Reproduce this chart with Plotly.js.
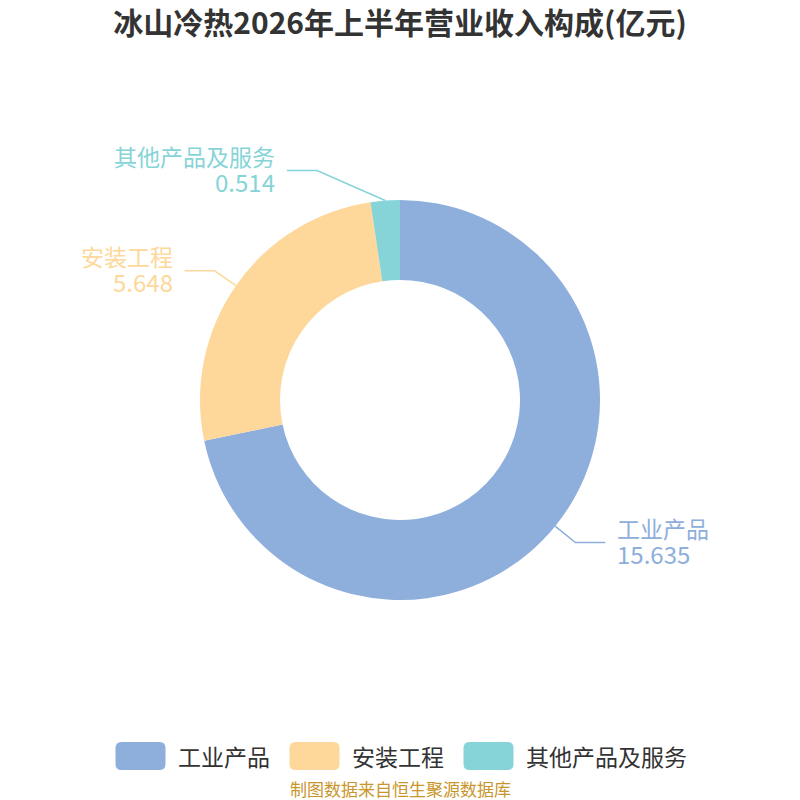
<!DOCTYPE html>
<html>
<head>
<meta charset="utf-8">
<script src="https://cdn.plot.ly/plotly-3.0.1.min.js"></script>
<style>
  html, body { margin: 0; padding: 0; background: #fff; }
  #chart { width: 800px; height: 800px; }
</style>
</head>
<body>
<div id="chart"></div>
<script>
// data
const labels = ['工业产品', '安装工程', '其他产品及服务']
const values = [15.635, 5.648, 0.514]
const colors = ['#8eaedb', '#fdd89a', '#86d4d8']

const W = 800, H = 800
const FONT = '"Noto Sans CJK SC", "Noto Sans", sans-serif'

// pie geometry in px (domain 0.25..0.75 -> radius 200, centre 400,400)
const cx = 400, cy = 400, R = 200
const len1 = 26, len2 = 30

const px = (x) => x / W
const py = (y) => 1 - y / H

var total = values.reduce((a, b) => a + b, 0)
var shapes = []
var annotations = []

// leader lines + outside labels, placed from the data angles
var cum = 0
for (var i = 0; i < values.length; i++) {
    var frac = values[i] / total
    var mid = (cum + frac / 2) * 2 * Math.PI   // clockwise from 12 o'clock
    cum += frac
    var dx = Math.sin(mid), dy = -Math.cos(mid)
    var side = dx < 0 ? -1 : 1
    var x0 = cx + R * dx, y0 = cy + R * dy
    var x1 = cx + (R + len1) * dx, y1 = cy + (R + len1) * dy
    if (Math.abs(x1 - cx) < 83) { x1 = cx + side * 83; y1 -= 4 }  // keep labels near the top off the ring
    var x2 = x1 + side * len2

    shapes.push({
        type: 'path', xref: 'paper', yref: 'paper',
        path: `M ${px(x0)},${py(y0)} L ${px(x1)},${py(y1)} L ${px(x2)},${py(y1)}`,
        line: {color: colors[i], width: 1.5},
    })
    var tx = x2 + side * 10
    annotations.push({
        xref: 'paper', yref: 'paper', x: px(tx), y: py(y1 - 15),
        xanchor: side < 0 ? 'right' : 'left', yanchor: 'middle',
        text: labels[i], showarrow: false,
        font: {family: FONT, size: 23, color: colors[i]},
    })
    annotations.push({
        xref: 'paper', yref: 'paper', x: px(tx), y: py(y1 + 11),
        xanchor: side < 0 ? 'right' : 'left', yanchor: 'middle',
        text: values[i].toFixed(3), showarrow: false,
        font: {family: FONT, size: 24, color: colors[i]},
    })
}

// custom legend: rounded swatches + names, centred
const swW = 50, swH = 28, swGap = 10, itemGap = 22, legFont = 23, legY = 756
var widths = labels.map(l => swW + swGap + l.length * legFont)
var legTotal = widths.reduce((a, b) => a + b, 0) + itemGap * (labels.length - 1)
var lx = (W - legTotal) / 2
function roundRect(x, y, w, h, r) {
    var p = [
        `M ${px(x + r)},${py(y)}`,
        `L ${px(x + w - r)},${py(y)}`,
        `Q ${px(x + w)},${py(y)} ${px(x + w)},${py(y + r)}`,
        `L ${px(x + w)},${py(y + h - r)}`,
        `Q ${px(x + w)},${py(y + h)} ${px(x + w - r)},${py(y + h)}`,
        `L ${px(x + r)},${py(y + h)}`,
        `Q ${px(x)},${py(y + h)} ${px(x)},${py(y + h - r)}`,
        `L ${px(x)},${py(y + r)}`,
        `Q ${px(x)},${py(y)} ${px(x + r)},${py(y)}`,
        'Z',
    ]
    return p.join(' ')
}
for (var i = 0; i < labels.length; i++) {
    shapes.push({
        type: 'path', xref: 'paper', yref: 'paper',
        path: roundRect(lx, legY - swH / 2, swW, swH, 6),
        fillcolor: colors[i], line: {width: 0},
    })
    annotations.push({
        xref: 'paper', yref: 'paper', x: px(lx + swW + swGap), y: py(legY),
        xanchor: 'left', yanchor: 'middle', text: labels[i], showarrow: false,
        font: {family: FONT, size: legFont, color: '#333333'},
    })
    lx += widths[i] + itemGap
}

// source note
annotations.push({
    xref: 'paper', yref: 'paper', x: 0.5, y: py(788),
    xanchor: 'center', yanchor: 'middle', showarrow: false,
    text: '制图数据来自恒生聚源数据库',
    font: {family: FONT, size: 17, color: '#c9962c'},
})

var trace = {
    type: 'pie',
    labels: labels,
    values: values,
    hole: 0.6,
    sort: false,
    direction: 'clockwise',
    rotation: 0,
    textinfo: 'none',
    hoverinfo: 'label+value+percent',
    marker: {colors: colors, line: {width: 0}},
    domain: {x: [0.25, 0.75], y: [0.25, 0.75]},
    showlegend: false,
}

var layout = {
    width: W, height: H,
    margin: {l: 0, r: 0, t: 0, b: 0},
    paper_bgcolor: '#ffffff',
    title: {
        text: '<b>冰山冷热2026年上半年营业收入构成(亿元)</b>',
        x: 0.5, xanchor: 'center',
        y: 1 - 23 / H, yanchor: 'middle',
        font: {family: FONT, size: 30, color: '#333333'},
    },
    showlegend: false,
    shapes: shapes,
    annotations: annotations,
}

Plotly.newPlot('chart', [trace], layout, {displayModeBar: false})
</script>
</body>
</html>
